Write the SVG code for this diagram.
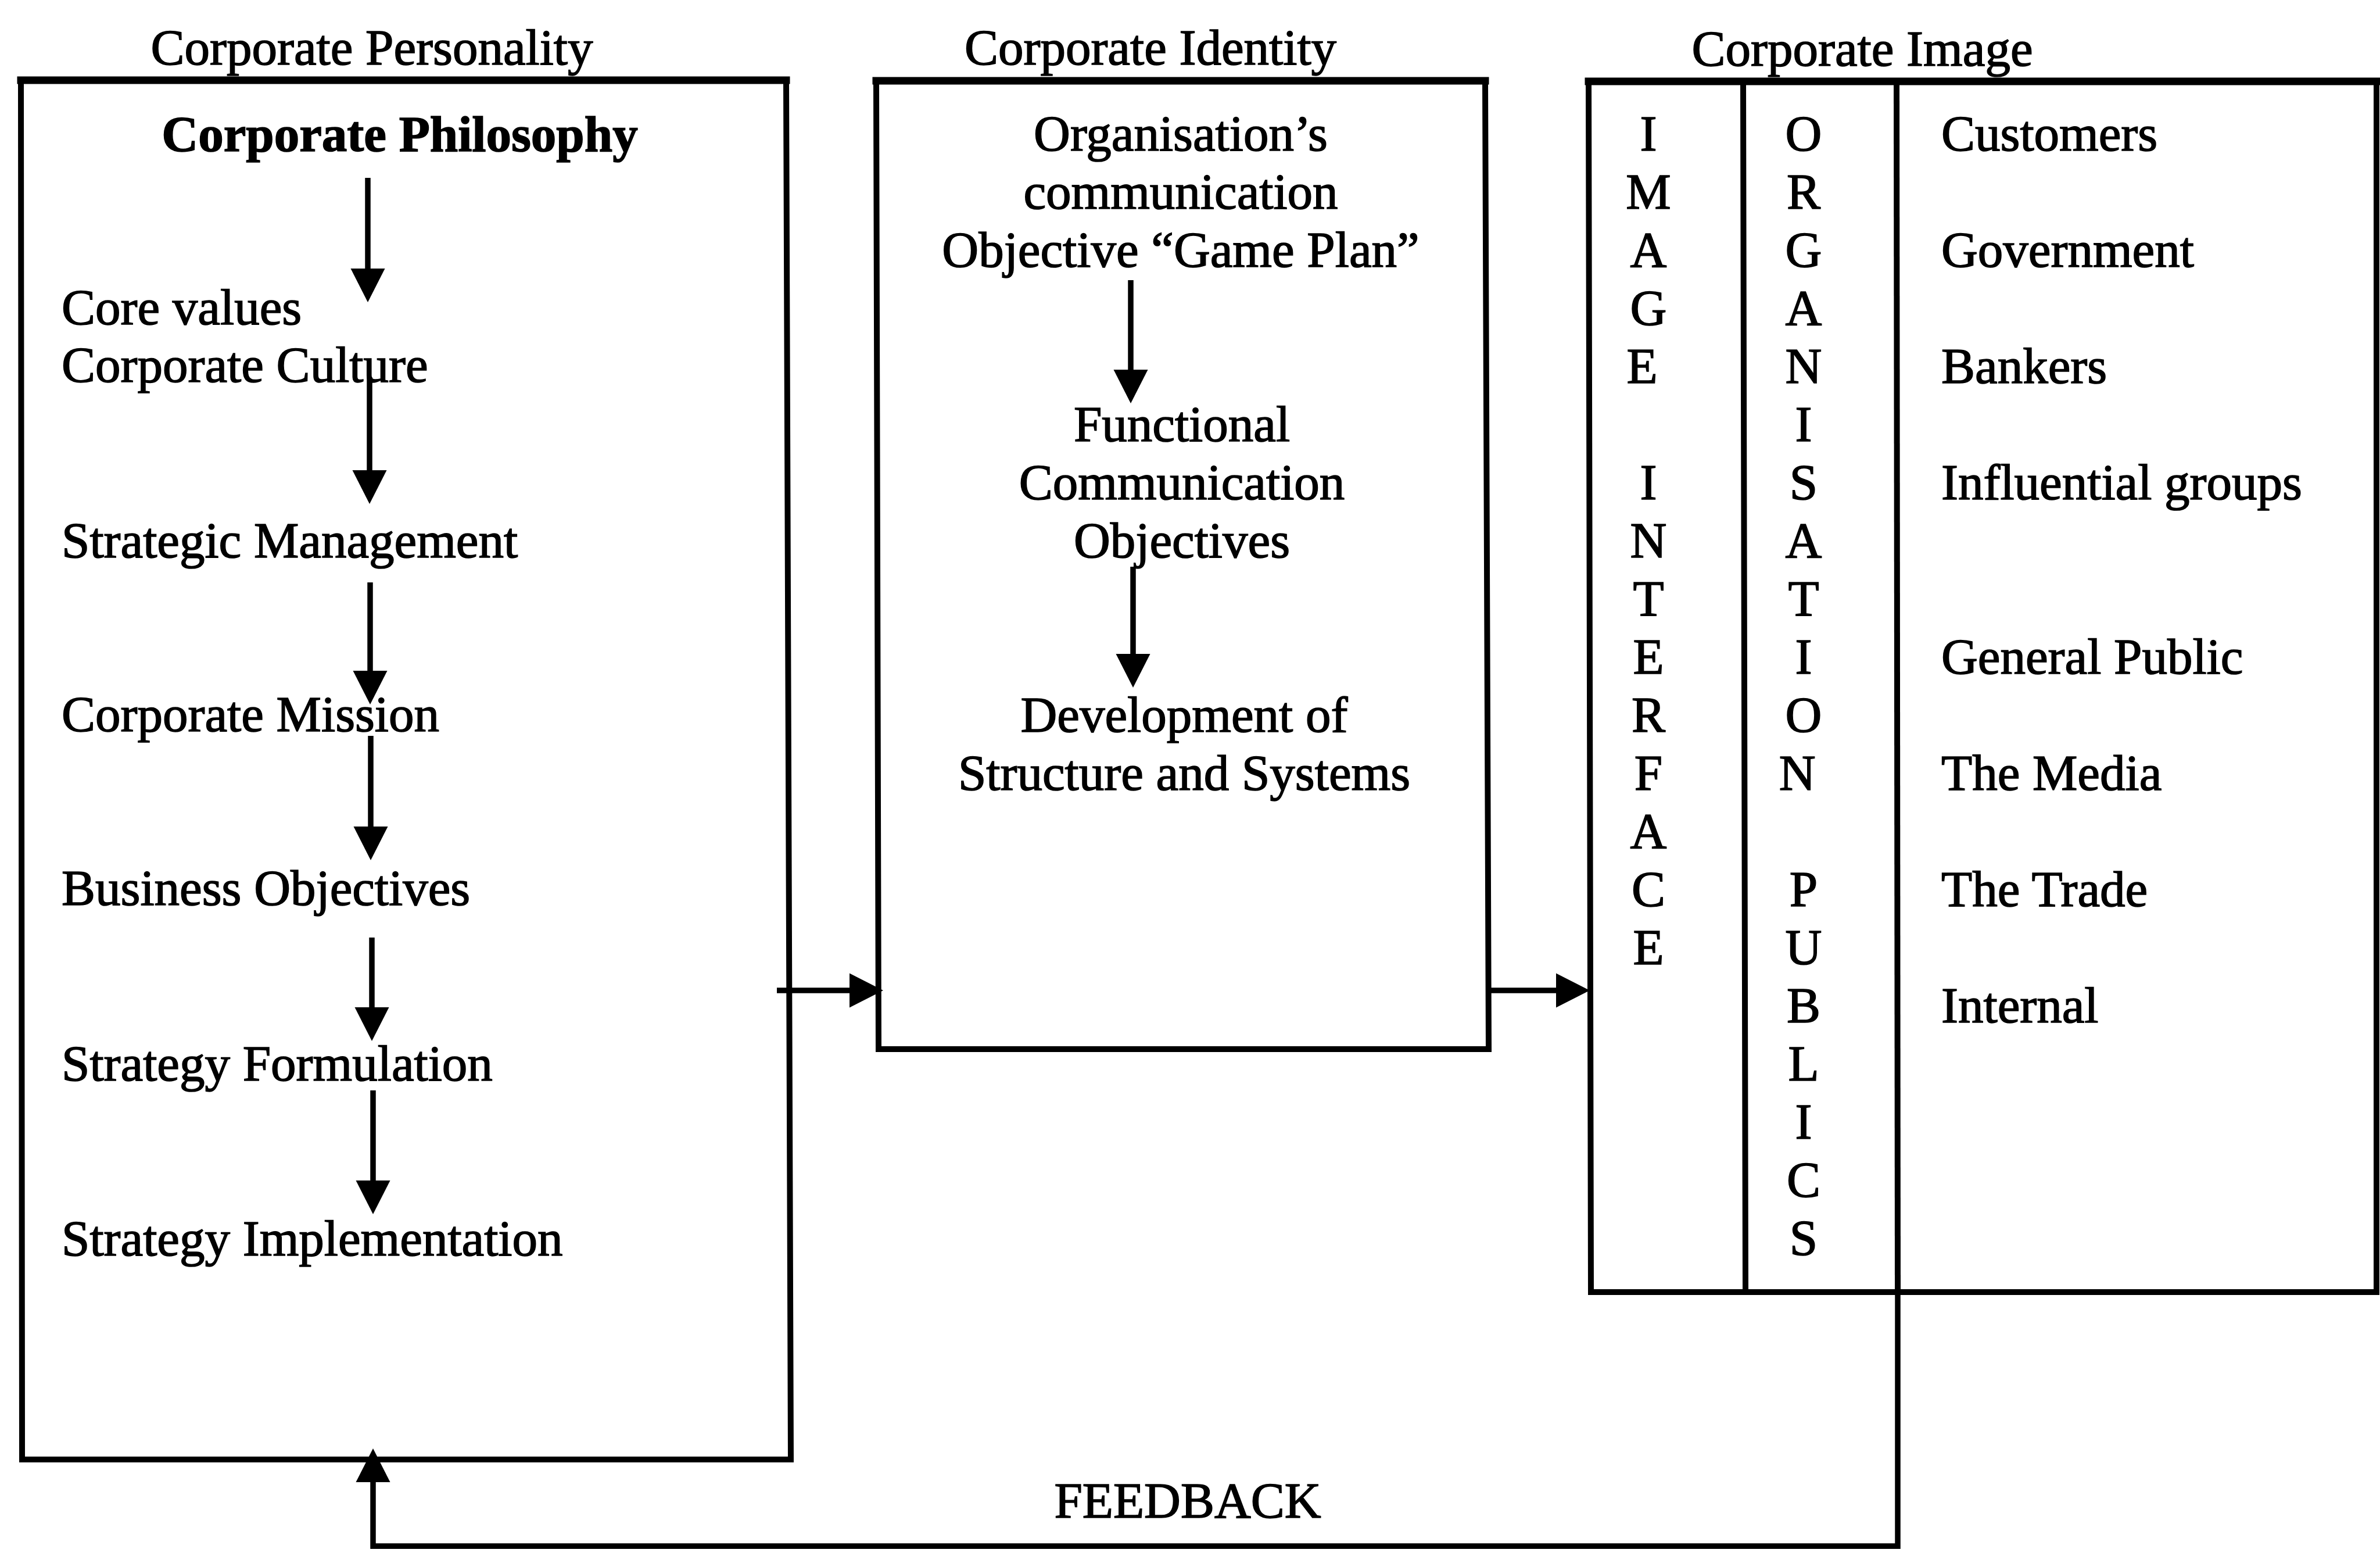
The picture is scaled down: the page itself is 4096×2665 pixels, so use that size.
<svg xmlns="http://www.w3.org/2000/svg" width="4096" height="2665" viewBox="0 0 4096 2665">
  <style>
    .t { font-family: "Liberation Serif", "Times New Roman", serif; font-size: 87px; fill: #000; stroke: #000; stroke-width: 1.6; }
    .b { font-weight: bold; }
    .c { text-anchor: middle; }
    .edge { fill: none; stroke: #000; stroke-width: 10; stroke-linecap: square; }
    .top { fill: none; stroke: #000; stroke-width: 13; stroke-linecap: square; }
    .conn { fill: none; stroke: #000; stroke-width: 9.5; marker-end: url(#ah); }
  </style>
  <defs>
    <marker id="ah" markerUnits="userSpaceOnUse" markerWidth="60" markerHeight="60" refX="0" refY="29.5" orient="auto" style="overflow:visible">
      <path d="M0,0 L58,29.5 L0,59 Z" fill="#000"/>
    </marker>
  </defs>
  <rect width="4096" height="2665" fill="#fff"/>

  <!-- column headings -->
  <g id="headings">
    <text class="t c" x="640" y="111">Corporate Personality</text>
    <text class="t c" x="1980" y="111">Corporate Identity</text>
    <text class="t c" x="3205" y="113">Corporate Image</text>
  </g>

  <!-- Corporate Personality box -->
  <g id="personality">
    <path class="edge" d="M36,138 L38,2511 L1361,2511 L1353,138"/>
    <path class="top" d="M36,138 L1353,138"/>
    <text class="t b c" x="688" y="260">Corporate Philosophy</text>
    <text class="t" x="106" y="558">Core values</text>
    <text class="t" x="106" y="657">Corporate Culture</text>
    <text class="t" x="106" y="959">Strategic Management</text>
    <text class="t" x="106" y="1258">Corporate Mission</text>
    <text class="t" x="106" y="1557">Business Objectives</text>
    <text class="t" x="106" y="1859">Strategy Formulation</text>
    <text class="t" x="106" y="2160">Strategy Implementation</text>
  </g>

  <!-- Corporate Identity box -->
  <g id="identity">
    <path class="edge" d="M1508,139 L1512,1805 L2562,1805 L2556,139"/>
    <path class="top" d="M1508,139 L2556,139"/>
    <text class="t c" x="2032" y="259">Organisation’s</text>
    <text class="t c" x="2032" y="359">communication</text>
    <text class="t c" x="2032" y="459">Objective “Game Plan”</text>
    <text class="t c" x="2034" y="759">Functional</text>
    <text class="t c" x="2034" y="859">Communication</text>
    <text class="t c" x="2034" y="959">Objectives</text>
    <text class="t c" x="2038" y="1259">Development of</text>
    <text class="t c" x="2038" y="1359">Structure and Systems</text>
  </g>

  <!-- Corporate Image box with its two lettered columns -->
  <g id="image">
    <path class="edge" d="M2734,140 L2738,2223 L4090,2223 L4090,140"/>
    <path class="top" d="M2734,140 L4090,140"/>
    <path class="edge" d="M3000,140 L3004,2223"/>
    <path class="edge" d="M3264,140 L3266,2223"/>
    <text class="t c" x="2837">
      <tspan x="2837" y="259">I</tspan><tspan x="2837" y="359">M</tspan><tspan x="2837" y="459">A</tspan><tspan x="2837" y="559">G</tspan><tspan x="2837" y="659">E</tspan>
      <tspan x="2837" y="859">I</tspan><tspan x="2837" y="959">N</tspan><tspan x="2837" y="1059">T</tspan><tspan x="2837" y="1159">E</tspan><tspan x="2837" y="1259">R</tspan><tspan x="2837" y="1359">F</tspan><tspan x="2837" y="1459">A</tspan><tspan x="2837" y="1559">C</tspan><tspan x="2837" y="1659">E</tspan>
    </text>
    <text class="t c" x="3104">
      <tspan x="3104" y="259">O</tspan><tspan x="3104" y="359">R</tspan><tspan x="3104" y="459">G</tspan><tspan x="3104" y="559">A</tspan><tspan x="3104" y="659">N</tspan><tspan x="3104" y="759">I</tspan><tspan x="3104" y="859">S</tspan><tspan x="3104" y="959">A</tspan><tspan x="3104" y="1059">T</tspan><tspan x="3104" y="1159">I</tspan><tspan x="3104" y="1259">O</tspan><tspan x="3104" y="1359">N</tspan>
      <tspan x="3104" y="1559">P</tspan><tspan x="3104" y="1659">U</tspan><tspan x="3104" y="1759">B</tspan><tspan x="3104" y="1859">L</tspan><tspan x="3104" y="1959">I</tspan><tspan x="3104" y="2059">C</tspan><tspan x="3104" y="2159">S</tspan>
    </text>
    <text class="t" x="3341" y="259">Customers</text>
    <text class="t" x="3341" y="459">Government</text>
    <text class="t" x="3341" y="659">Bankers</text>
    <text class="t" x="3341" y="859">Influential groups</text>
    <text class="t" x="3341" y="1159">General Public</text>
    <text class="t" x="3341" y="1359">The Media</text>
    <text class="t" x="3341" y="1559">The Trade</text>
    <text class="t" x="3341" y="1759">Internal</text>
  </g>

  <!-- connectors -->
  <g id="connectors">
    <path class="conn" d="M633,306 L633,462"/>
    <path class="conn" d="M636,649 L636,809"/>
    <path class="conn" d="M637,1002 L637,1154"/>
    <path class="conn" d="M638,1266 L638,1422"/>
    <path class="conn" d="M640,1613 L640,1733"/>
    <path class="conn" d="M642,1876 L642,2031"/>
    <path class="conn" d="M1946,482 L1946,636"/>
    <path class="conn" d="M1950,975 L1950,1125"/>
    <path class="conn" d="M1337,1704 L1462,1704"/>
    <path class="conn" d="M2564,1704 L2678,1704"/>
    <path class="conn" d="M3266,2223 L3266,2660 L642,2660 L642,2550"/>
    <text class="t c" x="2044" y="2611">FEEDBACK</text>
  </g>
</svg>
